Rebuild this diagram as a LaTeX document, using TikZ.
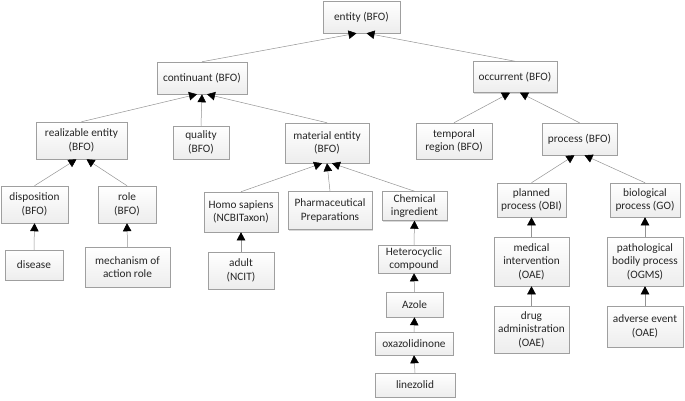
\documentclass[tikz,border=0pt]{standalone}
\usepackage{fontspec}
\setmainfont{Carlito}
\usetikzlibrary{arrows.meta,shadows}
\begin{document}
\begin{tikzpicture}[x=1pt,y=-1pt,
  box/.style={draw=gray!75, line width=0.5pt, top color=white, bottom color=gray!14,
    drop shadow={shadow xshift=1.2pt, shadow yshift=-1.2pt, fill=gray!60, opacity=0.5},
    align=center, inner sep=1pt, font=\fontsize{11.3}{13.5}\selectfont, text=black!85},
  isa/.style={draw=gray!85, line width=0.5pt, -{Triangle[length=8pt,width=8.5pt,fill=black,color=black]}}]
\useasboundingbox (0,0) rectangle (685,401);
\node[box, minimum width=77, minimum height=32] (entity) at (361.5,17) {entity (BFO)};
\node[box, minimum width=90, minimum height=32] (cont) at (202,78) {continuant (BFO)};
\node[box, minimum width=84, minimum height=31] (occ) at (515,77) {occurrent (BFO)};
\node[box, minimum width=91, minimum height=37] (real) at (81.5,140.5) {realizable entity\\(BFO)};
\node[box, minimum width=56, minimum height=33] (qual) at (201,142.5) {quality\\(BFO)};
\node[box, minimum width=84, minimum height=40] (mat) at (327,143) {material entity\\(BFO)};
\node[box, minimum width=76, minimum height=36] (temp) at (454,141) {temporal\\region (BFO)};
\node[box, minimum width=75, minimum height=32] (proc) at (579.5,139) {process (BFO)};
\node[box, minimum width=67, minimum height=37] (disp) at (34.5,204.5) {disposition\\(BFO)};
\node[box, minimum width=58, minimum height=37] (role) at (127,204.5) {role\\(BFO)};
\node[box, minimum width=58, minimum height=30] (dis) at (34,265) {disease};
\node[box, minimum width=85, minimum height=40] (mech) at (127.5,267) {mechanism of\\action role};
\node[box, minimum width=74, minimum height=40] (homo) at (241,212) {Homo sapiens\\(NCBITaxon)};
\node[box, minimum width=66, minimum height=37] (adult) at (241,270.5) {adult\\(NCIT)};
\node[box, minimum width=84, minimum height=38] (pharm) at (330,210.5) {Pharmaceutical\\Preparations};
\node[box, minimum width=65, minimum height=29] (chem) at (414.5,206) {Chemical\\ingredient};
\node[box, minimum width=72, minimum height=28] (het) at (414,259) {Heterocyclic\\compound};
\node[box, minimum width=57, minimum height=25] (azole) at (414.5,304.5) {Azole};
\node[box, minimum width=78, minimum height=23] (oxa) at (414,343.5) {oxazolidinone};
\node[box, minimum width=80, minimum height=24] (lin) at (415,385) {linezolid};
\node[box, minimum width=69, minimum height=34] (plan) at (531.5,200) {planned\\process (OBI)};
\node[box, minimum width=75, minimum height=49] (med) at (531.5,261.5) {medical\\intervention\\(OAE)};
\node[box, minimum width=75, minimum height=47] (drug) at (531.5,329.5) {drug\\administration\\(OAE)};
\node[box, minimum width=70, minimum height=34] (bio) at (645,200) {biological\\process (GO)};
\node[box, minimum width=76, minimum height=49] (path) at (645,261.5) {pathological\\bodily process\\(OGMS)};
\node[box, minimum width=76, minimum height=41] (adv) at (645,326.5) {adverse event\\(OAE)};
% is_a links, child to parent
\draw[isa] (cont.north) -- ([xshift=-5]entity.south);
\draw[isa] (occ.north) -- ([xshift=5]entity.south);
\draw[isa] (real.north) -- ([xshift=-5]cont.south);
\draw[isa] (qual.north) -- (cont.south);
\draw[isa] (mat.north) -- ([xshift=5]cont.south);
\draw[isa] (disp.north) -- ([xshift=-5]real.south);
\draw[isa] (role.north) -- ([xshift=5]real.south);
\draw[isa] (dis.north) -- (disp.south);
\draw[isa] (mech.north) -- (role.south);
\draw[isa] (homo.north) -- ([xshift=-5]mat.south);
\draw[isa] (pharm.north) -- (mat.south);
\draw[isa] (chem.north) -- ([xshift=5]mat.south);
\draw[isa] (adult.north) -- (homo.south);
\draw[isa] (het.north) -- (chem.south);
\draw[isa] (azole.north) -- (het.south);
\draw[isa] (oxa.north) -- (azole.south);
\draw[isa] (lin.north) -- (oxa.south);
\draw[isa] (temp.north) -- ([xshift=-5]occ.south);
\draw[isa] (proc.north) -- ([xshift=5]occ.south);
\draw[isa] (plan.north) -- ([xshift=-5]proc.south);
\draw[isa] (bio.north) -- ([xshift=5]proc.south);
\draw[isa] (med.north) -- (plan.south);
\draw[isa] (drug.north) -- (med.south);
\draw[isa] (path.north) -- (bio.south);
\draw[isa] (adv.north) -- (path.south);
\end{tikzpicture}
\end{document}
